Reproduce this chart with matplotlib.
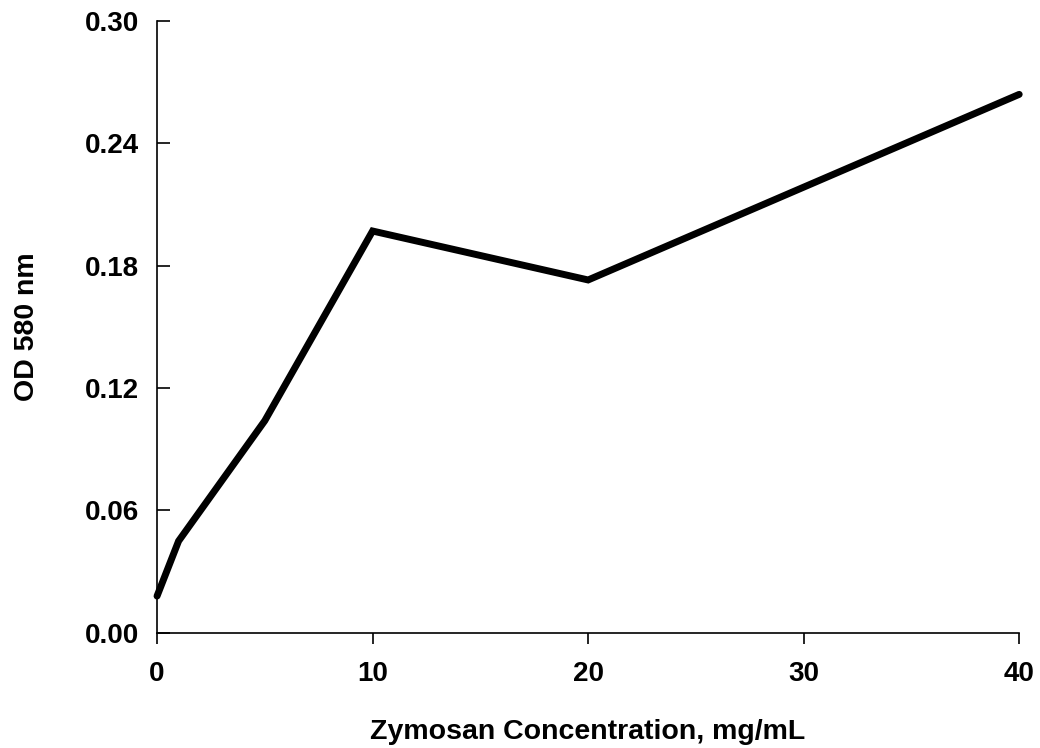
import matplotlib
matplotlib.use("Agg")
import matplotlib.pyplot as plt

plt.rcParams['font.family'] = ['Liberation Sans', 'DejaVu Sans']
plt.rcParams['font.weight'] = 'bold'

# zymosan concentration (mg/mL) vs OD 580 nm
conc = [0, 1, 5, 10, 20, 40]
od = [0.018, 0.045, 0.104, 0.197, 0.173, 0.264]

x_ticks = [0, 10, 20, 30, 40]
y_ticks = [0.00, 0.06, 0.12, 0.18, 0.24, 0.30]

fig = plt.figure(figsize=(10.4, 7.48), dpi=100)
ax = fig.add_axes([0.151, 0.154, 0.829, 0.818])

ax.plot(conc, od, color='black', linewidth=5, solid_joinstyle='miter',
        solid_capstyle='round', clip_on=False)

ax.set_xlim(0, 40)
ax.set_ylim(0, 0.30)
ax.set_xticks(x_ticks)
ax.set_yticks(y_ticks)
ax.set_yticklabels([f"{v:.2f}" for v in y_ticks])

for s in ['top', 'right']:
    ax.spines[s].set_visible(False)
for s in ['left', 'bottom']:
    ax.spines[s].set_linewidth(1.2)

ax.tick_params(axis='y', direction='in', length=9, width=1.2, labelsize=20, pad=13)
ax.tick_params(axis='x', direction='out', length=8, width=1.2, labelsize=20, pad=12)
for lbl in ax.get_xticklabels() + ax.get_yticklabels():
    lbl.set_fontweight('bold')

ax.set_xlabel("Zymosan Concentration, mg/mL", fontsize=20.5, fontweight='bold', labelpad=23)
ax.set_ylabel("OD 580 nm", fontsize=20.5, fontweight='bold', labelpad=32)

fig.savefig("out.png", dpi=100)
